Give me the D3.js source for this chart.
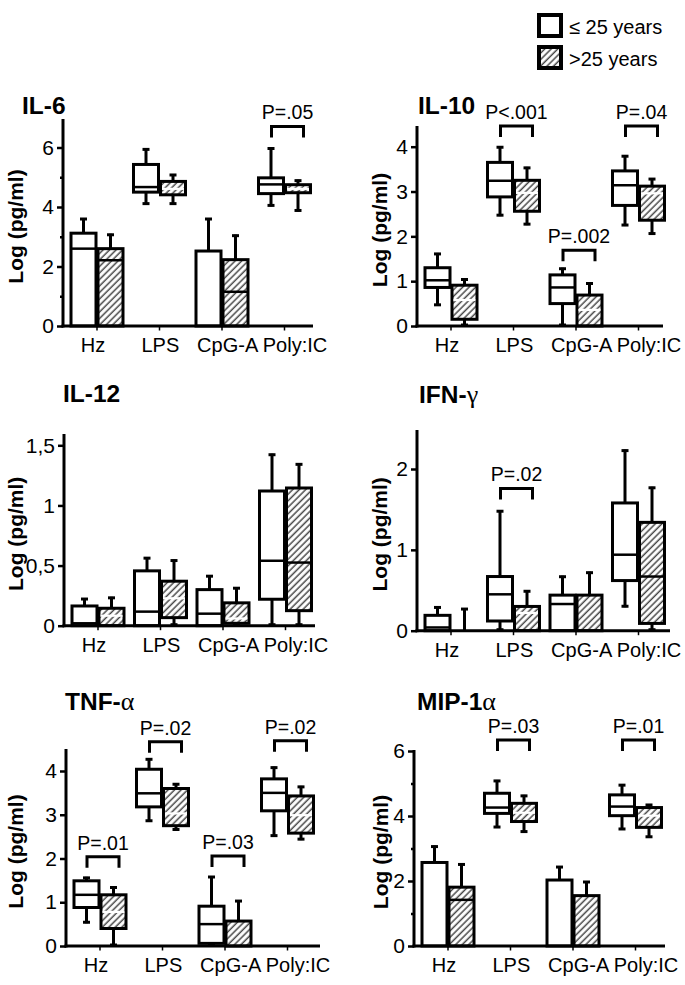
<!DOCTYPE html>
<html><head><meta charset="utf-8">
<script src="https://cdn.jsdelivr.net/npm/d3@7"></script>
<style>body{margin:0;background:#fff} svg{display:block}</style>
</head><body>
<svg id="c" width="685" height="985"></svg>
<script>
// ---------------- DATA ----------------
const categories = ["Hz", "LPS", "CpG-A", "Poly:IC"];
const ageGroups = ["\u2264 25 years", ">25 years"];
const cytokines = ["IL-6", "IL-10", "IL-12", "IFN-\u03b3", "TNF-\u03b1", "MIP-1\u03b1"];
const yAxisTitle = "Log (pg/ml)";

// each row: [whiskerLow, q1, median, q3, whiskerHigh] per category
const il6Young = [[0,0,2.6,3.12,3.63],[4.08,4.5,4.67,5.43,5.97],[0,0,0,2.52,3.63],[4.02,4.45,4.76,4.98,6.0]];
const il6Old   = [[0,0,2.21,2.6,3.1],[4.08,4.41,4.61,4.86,5.11],[0,0,1.15,2.23,3.07],[3.85,4.48,4.61,4.75,4.92]];
const il10Young = [[0.45,0.86,1.02,1.30,1.63],[2.45,2.88,3.24,3.65,4.01],[0,0.50,0.86,1.14,1.30],[2.23,2.69,3.14,3.46,3.81]];
const il10Old   = [[0,0.15,0.58,0.91,1.06],[2.25,2.56,2.97,3.25,3.55],[0,0,0.36,0.69,0.97],[2.04,2.36,2.96,3.12,3.30]];
const il12Young = [[0,0,0.02,0.164,0.23],[0,0,0.117,0.456,0.57],[0,0,0.10,0.30,0.42],[0,0.22,0.54,1.12,1.43]];
const il12Old   = [[0,0,0.083,0.145,0.24],[0,0.067,0.228,0.37,0.55],[0,0.02,0.06,0.19,0.32],[0,0.125,0.525,1.145,1.35]];
const ifnYoung = [[0,0,0.04,0.19,0.30],[0,0.12,0.45,0.67,1.49],[0,0,0.33,0.44,0.68],[0.29,0.62,0.94,1.58,2.24]];
const ifnOld   = [[0,0,0,0,0.28],[0,0,0.22,0.30,0.50],[0,0,0,0.44,0.73],[0,0.09,0.67,1.34,1.78]];
const tnfYoung = [[0.52,0.88,1.17,1.49,1.58],[2.84,3.18,3.49,4.04,4.29],[0,0.06,0.50,0.91,1.60],[2.50,3.09,3.50,3.82,4.10]];
const tnfOld   = [[0,0.40,0.78,1.17,1.36],[2.64,2.75,3.03,3.60,3.72],[0,0,0,0.57,1.05],[2.42,2.58,2.99,3.43,3.66]];
const mipYoung = [[0,0,0,2.57,3.09],[3.63,4.08,4.26,4.70,5.11],[0,0,0,2.03,2.46],[3.57,4.01,4.29,4.65,4.98]];
const mipOld   = [[0,0,1.42,1.81,2.54],[3.49,3.83,4.10,4.39,4.65],[0,0,0,1.55,2.0],[3.33,3.65,4.01,4.26,4.37]];

// y-axis ticks
const il6Ticks = [0,2,4,6], il6Minor = [1,3,5];
const il10Ticks = [0,1,2,3,4];
const il12Ticks = [0,0.5,1,1.5];
const ifnTicks = [0,1,2];
const tnfTicks = [0,1,2,3,4];
const mipTicks = [0,2,4,6], mipMinor = [1,3,5];

// significance annotations: category, label, bracket level (data units)
const il6P  = [["Poly:IC","P=.05",6.71]];
const il10P = [["LPS","P<.001",4.46],["CpG-A","P=.002",1.69],["Poly:IC","P=.04",4.46]];
const il12P = [];
const ifnP  = [["LPS","P=.02",1.76]];
const tnfP  = [["Hz","P=.01",2.04],["LPS","P=.02",4.67],["CpG-A","P=.03",2.06],["Poly:IC","P=.02",4.69]];
const mipP  = [["LPS","P=.03",6.34],["Poly:IC","P=.01",6.34]];

// ---------------- LAYOUT ----------------
const FONT = "'Liberation Sans', Arial, Helvetica, sans-serif";
const panels = [
  {title:cytokines[0], young:il6Young, old:il6Old, ticks:il6Ticks, minor:il6Minor, pv:il6P, ref:6},
  {title:cytokines[1], young:il10Young, old:il10Old, ticks:il10Ticks, minor:[], pv:il10P, ref:4},
  {title:cytokines[2], young:il12Young, old:il12Old, ticks:il12Ticks, minor:[], pv:il12P, ref:1.5},
  {title:cytokines[3], young:ifnYoung, old:ifnOld, ticks:ifnTicks, minor:[], pv:ifnP, ref:2},
  {title:cytokines[4], young:tnfYoung, old:tnfOld, ticks:tnfTicks, minor:[], pv:tnfP, ref:4},
  {title:cytokines[5], young:mipYoung, old:mipOld, ticks:mipTicks, minor:mipMinor, pv:mipP, ref:6}
];
const layout = [
  {ax:63,  y0:326,   refPx:147.5, top:119, xEnd:313, tx:22,  ty:114, lx:23},
  {ax:417, y0:326,   refPx:146.7, top:126, xEnd:663, tx:418, ty:114, lx:387},
  {ax:64,  y0:625.7, refPx:445.3, top:434, xEnd:315, tx:63,  ty:402, lx:23},
  {ax:417, y0:630.7, refPx:469,   top:430, xEnd:670, tx:419, ty:403, lx:387},
  {ax:66,  y0:946,   refPx:771,   top:749, xEnd:320, tx:65,  ty:710, lx:23},
  {ax:414, y0:946,   refPx:751,   top:750, xEnd:665, tx:417, ty:710, lx:388}
];
const BOXW = 25, GAP = 2, SW = 3;

const svg = d3.select("#c");
svg.append("rect").attr("width",685).attr("height",985).attr("fill","#fff");
const defs = svg.append("defs");
const pat = defs.append("pattern").attr("id","hatch").attr("patternUnits","userSpaceOnUse")
  .attr("width",4.6).attr("height",4.6).attr("patternTransform","rotate(45)");
pat.append("rect").attr("width",4.6).attr("height",4.6).attr("fill","#fff");
pat.append("line").attr("x1",1.2).attr("x2",1.2).attr("y1",0).attr("y2",4.6)
  .attr("stroke","#444").attr("stroke-width",1.5);

function drawBox(g, x0, s, y, hatched) {
  const [lo, q1, med, q3, hi] = s;
  const cx = x0 + BOXW/2;
  const wg = g.append("g").attr("stroke","#000").attr("stroke-width",SW).attr("fill","none");
  if (hi > q3) {
    wg.append("line").attr("x1",cx).attr("x2",cx).attr("y1",y(q3)).attr("y2",y(hi));
    wg.append("line").attr("x1",cx-3.5).attr("x2",cx+3.5).attr("y1",y(hi)+1).attr("y2",y(hi)+1);
  }
  if (lo < q1) {
    wg.append("line").attr("x1",cx).attr("x2",cx).attr("y1",y(q1)).attr("y2",y(lo));
    wg.append("line").attr("x1",cx-3.5).attr("x2",cx+3.5).attr("y1",y(lo)-1).attr("y2",y(lo)-1);
  }
  const h = Math.max(0, y(q1) - y(q3));
  g.append("rect").attr("x",x0).attr("y",y(q3)).attr("width",BOXW).attr("height",h)
    .attr("fill",hatched ? "url(#hatch)" : "#fff")
    .attr("stroke","#000").attr("stroke-width",SW);
  if (med > q1 && med < q3) {
    const light = hatched && h < 45;
    g.append("line").attr("x1",x0+(light?1.5:0)).attr("x2",x0+BOXW-(light?1.5:0))
      .attr("y1",y(med)).attr("y2",y(med))
      .attr("stroke",light ? "#fff" : "#000").attr("stroke-width",light ? 2.2 : 2.5);
  }
}

panels.forEach((p, i) => {
  const L = layout[i];
  const g = svg.append("g");
  const y = d3.scaleLinear().domain([0, p.ref]).range([L.y0, L.refPx]);
  const x = d3.scaleBand().domain(categories).range([L.ax + 2.75, L.ax + 252.75]);
  const xl = d3.scalePoint().domain(categories).range([L.ax + 30, L.ax + 232]);

  // boxes
  categories.forEach((c, j) => {
    const cx = x(c) + x.bandwidth()/2;
    drawBox(g, cx - GAP/2 - BOXW, p.young[j], y, false);
    drawBox(g, cx + GAP/2, p.old[j], y, true);
  });

  // y axis ticks + labels
  const fmt = d => String(d).replace(".", ",");
  const axis = d3.axisLeft(y).tickValues(p.ticks).tickSize(6).tickPadding(3).tickFormat(fmt);
  const ag = g.append("g").attr("transform", `translate(${L.ax},0)`).call(axis);
  ag.select(".domain").remove();
  ag.selectAll(".tick line").attr("stroke","#000").attr("stroke-width",2.5);
  ag.selectAll(".tick text").attr("font-family",FONT).attr("font-size",21).attr("fill","#000");
  if (p.minor.length) {
    const mg = g.append("g").attr("transform", `translate(${L.ax},0)`)
      .call(d3.axisLeft(y).tickValues(p.minor).tickSize(3).tickFormat(""));
    mg.select(".domain").remove();
    mg.selectAll(".tick line").attr("stroke","#000").attr("stroke-width",2.5);
  }
  // axis lines
  g.append("line").attr("x1",L.ax).attr("x2",L.ax).attr("y1",L.y0+1.5).attr("y2",L.top)
    .attr("stroke","#000").attr("stroke-width",SW);
  g.append("line").attr("x1",L.ax-1.5).attr("x2",L.xEnd).attr("y1",L.y0).attr("y2",L.y0)
    .attr("stroke","#000").attr("stroke-width",SW);
  // x ticks at group centres
  categories.forEach(c => {
    const cx = x(c) + x.bandwidth()/2;
    g.append("line").attr("x1",cx).attr("x2",cx).attr("y1",L.y0).attr("y2",L.y0+4.5)
      .attr("stroke","#000").attr("stroke-width",1.5);
  });
  // x labels
  g.selectAll(".xl").data(categories).enter().append("text")
    .attr("x", d => xl(d)).attr("y", L.y0 + 26).attr("text-anchor","middle")
    .attr("font-family",FONT).attr("font-size",20).text(d => d);

  // y label
  g.append("text").attr("transform", `translate(${L.lx},${(L.y0+L.top)/2 + 4}) rotate(-90)`)
    .attr("text-anchor","middle").attr("font-family",FONT).attr("font-weight","bold")
    .attr("font-size",21).text(yAxisTitle);

  // title (Greek letters in a serif face)
  const t = g.append("text").attr("x",L.tx).attr("y",L.ty).attr("font-family",FONT)
    .attr("font-weight","bold").attr("font-size",24.5);
  const m = p.title.match(/^(.*?)([\u03b1\u03b3])?$/);
  t.append("tspan").text(m[1]);
  if (m[2]) t.append("tspan").attr("font-family","'Liberation Serif', 'Times New Roman', serif")
    .attr("font-weight","normal").attr("font-size",26).text(m[2]);

  // significance brackets
  p.pv.forEach(([c, lab, lev]) => {
    const cx = x(c) + x.bandwidth()/2;
    const ly = y(lev);
    const xa = cx - 13, xb = cx + 19;
    g.append("path").attr("d", `M${xa},${ly+11}V${ly}H${xb}V${ly+11}`)
      .attr("fill","none").attr("stroke","#000").attr("stroke-width",SW);
    g.append("text").attr("x",(xa+xb)/2).attr("y",ly-7).attr("text-anchor","middle")
      .attr("font-family",FONT).attr("font-size",19.5).text(lab);
  });
});

// legend
const lg = svg.append("g");
ageGroups.forEach((a, k) => {
  const yy = 15 + k * 32;
  lg.append("rect").attr("x",539).attr("y",yy).attr("width",22).attr("height",21)
    .attr("fill", k ? "url(#hatch)" : "#fff").attr("stroke","#000").attr("stroke-width",4);
  lg.append("text").attr("x",569).attr("y",yy+19).attr("font-family",FONT)
    .attr("font-size",20).text(a);
});
</script>
</body></html>
